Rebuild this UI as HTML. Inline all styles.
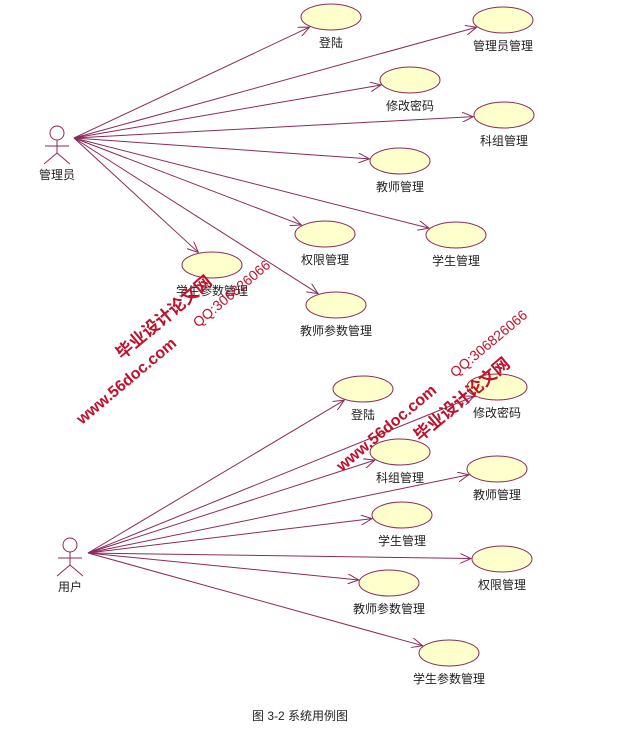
<!DOCTYPE html>
<html><head><meta charset="utf-8"><style>
html,body{margin:0;padding:0;background:#fff;}
svg{display:block;}
text{font-family:"Liberation Sans","Noto Sans CJK SC",sans-serif;}
</style></head><body>
<svg id="s" width="633" height="745" xmlns="http://www.w3.org/2000/svg">
<defs>
<marker id="a" markerWidth="12" markerHeight="10" refX="11" refY="5" orient="auto" markerUnits="userSpaceOnUse">
<path d="M0,0 L11,5 L0,10" fill="none" stroke="#8a2a5a" stroke-width="1"/>
</marker>
</defs>
<g id="g"></g>
<text x="300" y="720" font-size="12" text-anchor="middle" fill="#222">图 3-2    系统用例图</text>
<g fill="#c0102a" font-weight="bold">
<text transform="translate(82,425) rotate(-40)" font-size="16">www.56doc.com</text>
<text transform="translate(122,360) rotate(-40)" font-size="17">毕业设计论文网</text>
<text transform="translate(198,328) rotate(-40)" font-size="14" font-weight="normal">QQ:306826066</text>
<text transform="translate(342,472) rotate(-40)" font-size="16">www.56doc.com</text>
<text transform="translate(420,442) rotate(-40)" font-size="17">毕业设计论文网</text>
<text transform="translate(455,378) rotate(-40)" font-size="14" font-weight="normal">QQ:306826066</text>
</g>
</svg>
<script>
(function(){
var NS="http://www.w3.org/2000/svg",g=document.getElementById('g');
function el(t,a,txt){var e=document.createElementNS(NS,t);for(var k in a)e.setAttribute(k,a[k]);if(txt)e.textContent=txt;g.appendChild(e);return e;}
var C="#8a2a5a";
function actor(x,y,label){
 el('circle',{cx:x,cy:y,r:7,fill:'none',stroke:C});
 el('line',{x1:x,y1:y+7,x2:x,y2:y+20,stroke:C});
 el('line',{x1:x-12,y1:y+13,x2:x+12,y2:y+13,stroke:C});
 el('line',{x1:x,y1:y+20,x2:x-13,y2:y+31,stroke:C});
 el('line',{x1:x,y1:y+20,x2:x+13,y2:y+31,stroke:C});
 el('text',{x:x,y:y+46,'font-size':12,'text-anchor':'middle',fill:'#222'},label);
}
var listA=[[331,17,'登陆'],[503,20,'管理员管理'],[410,80,'修改密码'],[504,115,'科组管理'],[400,161,'教师管理'],[325,234,'权限管理'],[456,235,'学生管理'],[212,265,'学生参数管理'],[336,305,'教师参数管理']];
var listB=[[363,389,'登陆'],[497,387,'修改密码'],[400,452,'科组管理'],[497,469,'教师管理'],[402,515,'学生管理'],[502,559,'权限管理'],[389,583,'教师参数管理'],[449,653,'学生参数管理']];
function draw(ox,oy,list){
 list.forEach(function(u){
  var cx=u[0],cy=u[1],dx=cx-ox,dy=cy-oy,rx=31,ry=14;
  var t=1/Math.sqrt(dx*dx/(rx*rx)+dy*dy/(ry*ry));
  el('line',{x1:ox,y1:oy,x2:cx-dx*t,y2:cy-dy*t,stroke:C,'stroke-width':1,'marker-end':'url(#a)'});
 });
 list.forEach(function(u){
  el('ellipse',{cx:u[0],cy:u[1],rx:30,ry:13,fill:'#ffffcc',stroke:C});
  el('text',{x:u[0],y:u[1]+30,'font-size':12,'text-anchor':'middle',fill:'#222'},u[2]);
 });
}
draw(74,138,listA);actor(57,133,'管理员');
draw(88,553,listB);actor(70,545,'用户');
})();
</script>
</body></html>
